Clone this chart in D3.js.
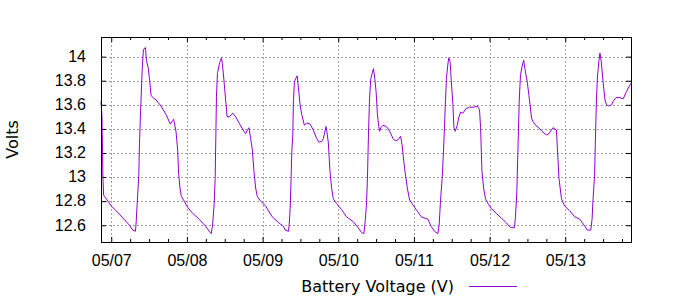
<!DOCTYPE html>
<html>
<head>
<meta charset="utf-8">
<script src="https://cdn.jsdelivr.net/npm/d3@7"></script>
<style>
  body { margin: 0; background: #fff; }
  svg { display: block; font-family: "DejaVu Sans", sans-serif; }
</style>
</head>
<body>
<svg id="chart" width="700" height="300"></svg>
<script>
// hours after 05/07 00:00, and battery voltage read at those times
const hours = [
  -3.25, -2.95, -2.63, -2.42, -1.58, 0, 1.58, 5.79, 6.84, 7.68, 7.89, 8.21, 8.74, 8.95, 9.37, 9.79,
  10.21, 10.84, 11.16, 11.79, 12.1, 12.63, 13.16, 14.21, 15.79, 17.37, 18.74, 19.47, 19.79, 20.0,
  20.53, 21.05, 21.37, 21.79, 22.21, 23.16, 24.21, 25.79, 27.89, 30.0, 31.05, 31.68, 32.1, 32.63,
  32.95, 33.16, 33.37, 33.68, 34.21, 34.53, 34.95, 35.26, 35.79, 36.32, 36.74, 37.37, 38.63, 39.47,
  40.53, 42.1, 42.63, 43.16, 43.68, 44.21, 44.74, 45.26, 45.79, 46.32, 47.37, 48.95, 51.05, 53.16,
  54.63, 55.16, 56.21, 56.42, 56.74, 57.05, 57.26, 57.58, 57.79, 58.1, 58.53, 58.95, 59.37, 59.89,
  60.42, 61.26, 62.0, 63.05, 64.1, 65.16, 65.89, 66.74, 67.26, 67.79, 68.1, 68.32, 68.84, 69.37,
  69.89, 70.42, 71.47, 73.05, 74.63, 76.74, 78.32, 79.37, 80.11, 80.42, 80.95, 81.26, 81.58, 81.89,
  82.32, 82.74, 83.16, 83.58, 84.0, 84.42, 84.84, 85.16, 85.47, 86.21, 87.26, 88.32, 89.37, 90.11,
  90.95, 91.79, 92.21, 93.05, 93.89, 94.63, 95.68, 96.74, 98.32, 100.42, 101.47, 102.53, 103.58,
  104.0, 104.42, 104.95, 105.37, 105.68, 106.0, 106.32, 106.74, 107.05, 107.47, 107.79, 108.37,
  108.69, 109.1, 109.75, 110.17, 110.8, 111.5, 112.6, 113.65, 115.0, 116.1, 116.8, 117.15, 117.57,
  118.1, 118.7, 119.5, 120.5, 122.1, 123.7, 125.3, 126.7, 127.9, 128.2, 128.6, 129.0, 129.4, 129.8,
  130.4, 130.8, 131.2, 132.0, 132.7, 133.3, 133.8, 134.6, 135.6, 136.6, 138.0, 138.8, 139.6, 140.1,
  141.2, 141.5, 142.0, 142.8, 143.8, 145.4, 147.0, 148.6, 150.0, 151.0, 152.1, 152.5, 152.8, 153.3,
  153.6, 153.9, 154.2, 154.7, 155.0, 155.4, 156.0, 156.6, 157.1, 157.8, 158.7, 159.2, 160.1, 161.3,
  162.4, 163.4, 164.85
];
const volts = [
  13.63, 13.50, 12.99, 12.85, 12.82, 12.76, 12.72, 12.60, 12.56, 12.55, 12.62, 12.77, 13.02, 13.28, 13.59, 13.88,
  14.06, 14.075, 13.97, 13.90, 13.82, 13.68, 13.66, 13.64, 13.59, 13.52, 13.44, 13.47, 13.48, 13.45,
  13.38, 13.23, 13.03, 12.91, 12.84, 12.80, 12.75, 12.70, 12.65, 12.59, 12.55, 12.53, 12.59, 12.77,
  12.98, 13.32, 13.67, 13.86, 13.93, 13.96, 13.99, 13.94, 13.79, 13.63, 13.50, 13.50, 13.53, 13.50,
  13.45, 13.38, 13.36, 13.39, 13.41, 13.32, 13.23, 13.05, 12.91, 12.84, 12.80, 12.76, 12.67, 12.62,
  12.59, 12.56, 12.55, 12.60, 12.74, 12.99, 13.21, 13.35, 13.63, 13.79, 13.82, 13.84, 13.74, 13.60,
  13.52, 13.43, 13.45, 13.44, 13.39, 13.32, 13.29, 13.295, 13.32, 13.38, 13.42, 13.39, 13.29, 13.05,
  12.91, 12.82, 12.78, 12.73, 12.67, 12.63, 12.58, 12.54, 12.53, 12.60, 12.77, 12.99, 13.35, 13.63,
  13.82, 13.86, 13.90, 13.82, 13.71, 13.52, 13.42, 13.38, 13.41, 13.43, 13.42, 13.38, 13.32, 13.30,
  13.31, 13.34, 13.27, 13.07, 12.91, 12.81, 12.77, 12.73, 12.67, 12.65, 12.59, 12.55, 12.53,
  12.60, 12.80, 12.99, 13.21, 13.41, 13.63, 13.82, 13.93, 13.99, 13.96, 13.82, 13.60,
  13.41, 13.38, 13.43, 13.49, 13.54, 13.53, 13.57, 13.58, 13.58, 13.59, 13.56, 13.41, 13.05,
  12.91, 12.82, 12.78, 12.74, 12.70, 12.66, 12.62, 12.58, 12.58, 12.67, 12.85, 13.24, 13.63, 13.85,
  13.93, 13.97, 13.90, 13.78, 13.63, 13.49, 13.46, 13.43, 13.41, 13.38, 13.35, 13.36, 13.39, 13.41,
  13.39, 13.24, 12.99, 12.82, 12.76, 12.72, 12.67, 12.65, 12.60, 12.56, 12.56, 12.65, 12.81, 13.02,
  13.35, 13.65, 13.83, 13.97, 14.03, 13.96, 13.79, 13.64, 13.60, 13.59, 13.60, 13.63, 13.66, 13.66,
  13.65, 13.71, 13.78
];
const dayLabels = ['05/07', '05/08', '05/09', '05/10', '05/11', '05/12', '05/13'];
const yTicks = [12.6, 12.8, 13, 13.2, 13.4, 13.6, 13.8, 14];
const yRange = [12.461, 14.163];
const seriesName = 'Battery Voltage (V)';

const parseDay = d3.utcParse('%m/%d');
const day0 = parseDay(dayLabels[0]);
const data = hours.map((h, i) => ({ t: new Date(+day0 + h * 3600e3), v: volts[i] }));

const svg = d3.select('#chart');
const margin = { left: 101, right: 69, top: 37, bottom: 58 };
const width = 700, height = 300;

const x = d3.scaleUtc()
  .domain(d3.extent(data, (d) => d.t))
  .range([margin.left, width - margin.right]);
const y = d3.scaleLinear()
  .domain(yRange)
  .range([height - margin.bottom, margin.top]);

const dayTicks = dayLabels.map(parseDay);
const minorTicks = d3.utcHour.every(6).range(...x.domain()).filter((t) => t.getUTCHours() !== 0);

// grid
const grid = svg.append('g')
  .attr('stroke', '#a0a0a0')
  .attr('stroke-dasharray', '2,2')
  .attr('stroke-width', 1);
grid.selectAll('.gx').data(dayTicks).join('line')
  .attr('x1', (d) => Math.round(x(d)) + 0.5).attr('x2', (d) => Math.round(x(d)) + 0.5)
  .attr('y1', margin.top).attr('y2', height - margin.bottom);
grid.selectAll('.gy').data(yTicks).join('line')
  .attr('y1', (d) => Math.round(y(d)) + 0.5).attr('y2', (d) => Math.round(y(d)) + 0.5)
  .attr('x1', margin.left).attr('x2', width - margin.right);

// axes: labelled day ticks, short 6-hour ticks, mirrored on top/right
const fmt = d3.utcFormat('%m/%d');
const styleAxis = (g) => {
  g.select('.domain').remove();
  g.selectAll('line').attr('stroke', '#000');
  g.selectAll('text').attr('fill', '#000').style('font-size', '16px');
};

svg.append('g')
  .attr('transform', `translate(0,${height - margin.bottom})`)
  .call(d3.axisBottom(x).tickValues(dayTicks).tickFormat(fmt).tickSize(-5).tickPadding(13))
  .call(styleAxis)
  .call((g) => g.selectAll('text').attr('dy', '0.71em'));
svg.append('g')
  .attr('transform', `translate(0,${height - margin.bottom})`)
  .call(d3.axisBottom(x).tickValues(minorTicks).tickFormat('').tickSize(-3))
  .call(styleAxis);
svg.append('g')
  .attr('transform', `translate(0,${margin.top})`)
  .call(d3.axisTop(x).tickValues(dayTicks).tickFormat('').tickSize(-5))
  .call(styleAxis);
svg.append('g')
  .attr('transform', `translate(0,${margin.top})`)
  .call(d3.axisTop(x).tickValues(minorTicks).tickFormat('').tickSize(-3))
  .call(styleAxis);

svg.append('g')
  .attr('transform', `translate(${margin.left},0)`)
  .call(d3.axisLeft(y).tickValues(yTicks).tickFormat((d) => String(d)).tickSize(-5).tickPadding(15))
  .call(styleAxis)
  .call((g) => g.selectAll('text').attr('dy', '0.3em'));
svg.append('g')
  .attr('transform', `translate(${width - margin.right},0)`)
  .call(d3.axisRight(y).tickValues(yTicks).tickFormat('').tickSize(-5))
  .call(styleAxis);

// series
svg.append('path')
  .datum(data)
  .attr('fill', 'none')
  .attr('stroke', '#9400d3')
  .attr('stroke-width', 1)
  .attr('d', d3.line().x((d) => x(d.t)).y((d) => y(d.v)));

// frame
svg.append('rect')
  .attr('x', margin.left + 0.5).attr('y', margin.top + 0.5)
  .attr('width', width - margin.left - margin.right)
  .attr('height', height - margin.top - margin.bottom)
  .attr('fill', 'none').attr('stroke', '#000');

// y label
svg.append('text')
  .attr('transform', `translate(18,${(margin.top + height - margin.bottom) / 2}) rotate(-90)`)
  .attr('text-anchor', 'middle')
  .style('font-size', '16px')
  .text('Volts');

// key
svg.append('text')
  .attr('x', 454).attr('y', 292)
  .attr('text-anchor', 'end')
  .style('font-size', '16px')
  .text(seriesName);
svg.append('line')
  .attr('x1', 469).attr('x2', 517).attr('y1', 286.5).attr('y2', 286.5)
  .attr('stroke', '#9400d3');
</script>
</body>
</html>
